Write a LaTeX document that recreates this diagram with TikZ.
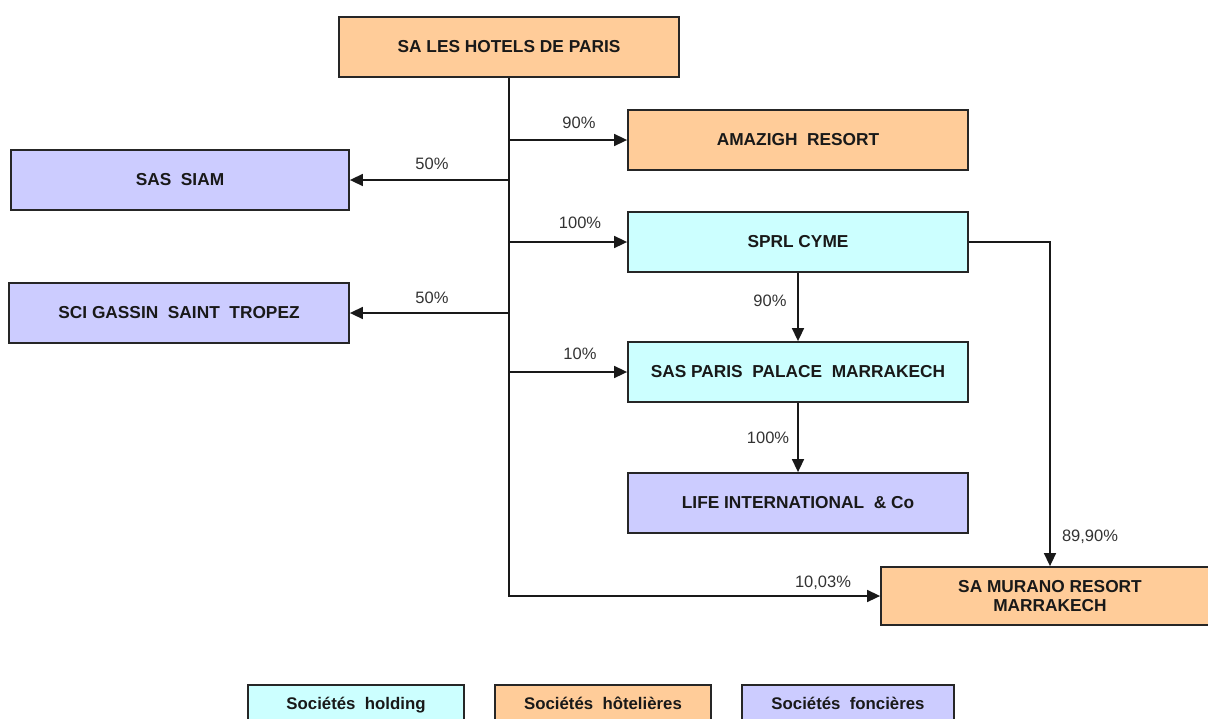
\documentclass[tikz,border=0pt]{standalone}
\usepackage{fontspec}
\setmainfont{Liberation Sans}
\usetikzlibrary{arrows.meta}
\definecolor{hotel}{HTML}{FFCC99}
\definecolor{hold}{HTML}{CCFFFF}
\definecolor{fonc}{HTML}{CCCCFF}
\begin{document}
\begin{tikzpicture}[x=1pt,y=-1pt,
  box/.style={draw=black!85,line width=1.8pt,minimum height=60pt,inner sep=0pt,
    font=\fontsize{17.3}{20.5}\selectfont\bfseries,align=center,text=black!90},
  leg/.style={box,minimum height=40pt,text height=13pt,text depth=4pt,
    font=\fontsize{16.8}{20}\selectfont\bfseries},
  lbl/.style={font=\fontsize{16.5}{19}\selectfont,text=black!80,inner sep=0pt},
  conn/.style={line width=1.6pt,draw=black!90},
  arr/.style={conn,-{Triangle[length=13pt,width=12pt]}}]
\useasboundingbox (0,0) rectangle (1208,718);
\clip (0,0) rectangle (1208,718);
% boxes
\node[box,fill=hotel,minimum width=340pt] (top) at (509,47) {SA LES HOTELS DE PARIS};
\node[box,fill=hotel,minimum width=340pt] (amazigh) at (798,140) {AMAZIGH~ RESORT};
\node[box,fill=fonc,minimum width=338pt] (siam) at (180,180) {SAS~ SIAM};
\node[box,fill=hold,minimum width=340pt] (cyme) at (798,242) {SPRL CYME};
\node[box,fill=fonc,minimum width=340pt] (gassin) at (179,313) {SCI GASSIN~ SAINT~ TROPEZ};
\node[box,fill=hold,minimum width=340pt] (palace) at (798,372) {SAS PARIS~ PALACE~ MARRAKECH};
\node[box,fill=fonc,minimum width=340pt] (life) at (798,503) {LIFE INTERNATIONAL~ \& Co};
\node[box,fill=hotel,minimum width=338pt,minimum height=58pt] (murano) at (1050,596) {SA MURANO RESORT\\[-1pt]MARRAKECH};
% legend
\node[leg,fill=hold,minimum width=216pt] (lhold) at (356,705) {Sociétés~ holding};
\node[leg,fill=hotel,minimum width=216pt] (lhotel) at (603,705) {Sociétés~ hôtelières};
\node[leg,fill=fonc,minimum width=212pt] (lfonc) at (848,705) {Sociétés~ foncières};
% connectors
\coordinate (tb) at (top.south |- murano.west);
\draw[arr] (top.south) -- (tb) -- (murano.west);
\draw[arr] (top.south |- amazigh.west) -- (amazigh.west);
\draw[arr] (top.south |- siam.east) -- (siam.east);
\draw[arr] (top.south |- cyme.west) -- (cyme.west);
\draw[arr] (top.south |- gassin.east) -- (gassin.east);
\draw[arr] (top.south |- palace.west) -- (palace.west);
\draw[arr] (cyme.south) -- (palace.north);
\draw[arr] (palace.south) -- (life.north);
\draw[arr] (cyme.east) -| (murano.north);
% labels
\node[lbl] (l1) at (579,123) {90\%};
\node[lbl] (l2) at (432,164) {50\%};
\node[lbl] (l3) at (580,223) {100\%};
\node[lbl] (l4) at (432,298) {50\%};
\node[lbl] (l5) at (580,354) {10\%};
\node[lbl] (l6) at (770,301) {90\%};
\node[lbl] (l7) at (768,438) {100\%};
\node[lbl] (l8) at (1090,537) {89,90\%};
\node[lbl] (l9) at (823,583) {10,03\%};
\end{tikzpicture}
\end{document}
